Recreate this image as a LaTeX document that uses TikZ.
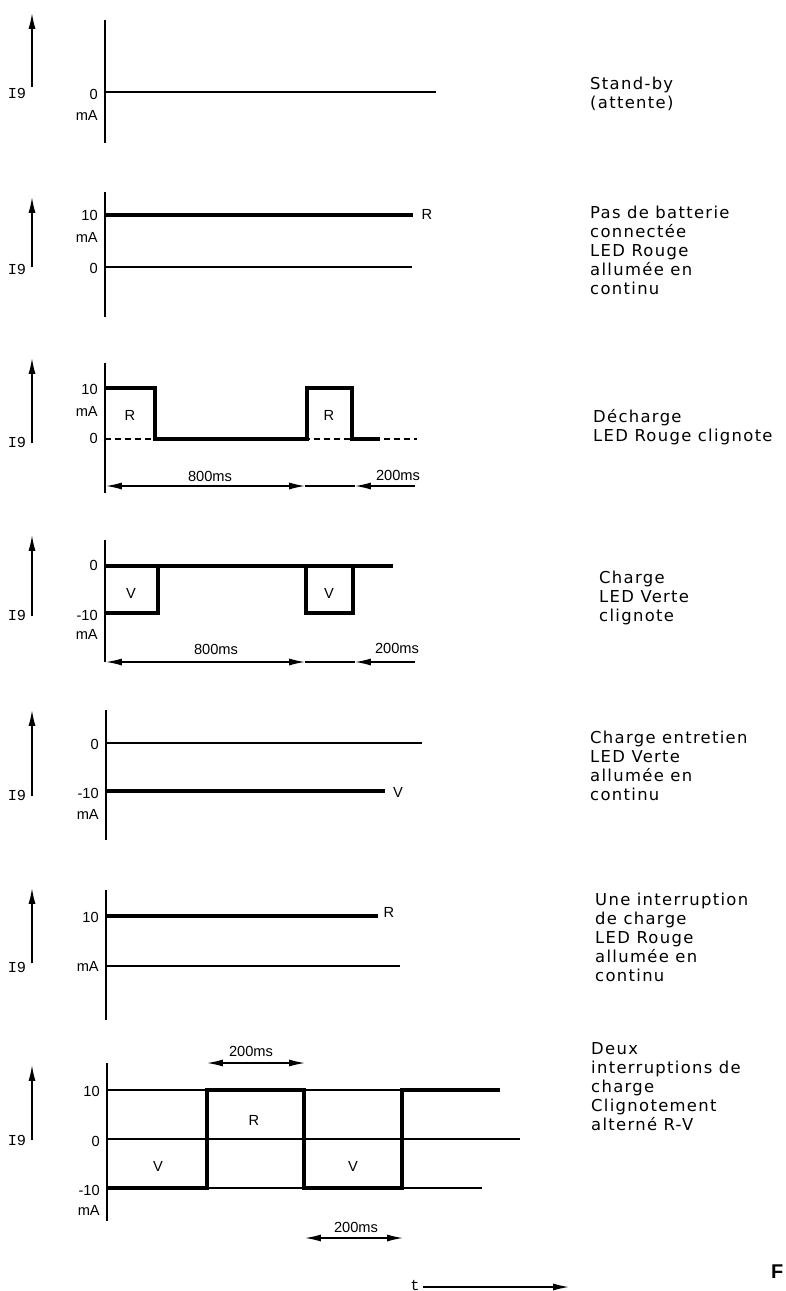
\documentclass[tikz,border=0pt]{standalone}
\usepackage{fontspec}
\usetikzlibrary{arrows.meta}
\newfontfamily\legfont[LetterSpace=8]{DejaVu Sans}
\newfontfamily\valfont{Liberation Sans}
\newfontfamily\igfont{Liberation Mono}
\tikzset{
 axe/.style={line width=1.4pt},
 fin/.style={line width=1.4pt},
 fort/.style={line width=2.6pt},
 sens/.style={line width=1.3pt},
 cote/.style={line width=1.2pt},
 val/.style={font=\valfont\fontsize{12.5}{12.5}\selectfont, anchor=east, inner sep=0pt},
 lettre/.style={font=\valfont\fontsize{12.5}{12.5}\selectfont, inner sep=0pt},
 ilab/.style={font=\igfont\fontsize{13}{13}\selectfont, inner sep=0pt},
 leg/.style={font=\legfont\fontsize{14}{16.2}\selectfont, anchor=north west, inner sep=0pt, align=left}
}
\begin{document}
\begin{tikzpicture}[x=0.03cm,y=-0.03cm,>={Latex[length=13.5pt,width=6pt]}]
 \useasboundingbox (0,0) rectangle (786,1291);
 %
 % Stand-by
 \draw[->,sens] (32,87) -- (32,13);
 \node[ilab] (ia) at (17,93) {I9};
 \draw[axe] (105,20) -- (105,143);
 \draw[fin] (105,92) -- (436,92);
 \node[val] (za) at (98,94) {0};
 \node[val] (ma) at (98,115) {mA};
 \node[leg] (la) at (590,77) {Stand-by\\(attente)};
 %
 % pas de batterie
 \draw[->,sens] (32,267) -- (32,197);
 \node[ilab] (ib) at (17,269) {I9};
 \draw[axe] (105,192) -- (105,317);
 \draw[fort] (105,215) -- (413,215);
 \draw[fin] (105,267) -- (412,267);
 \node[val] (db) at (98,215) {10};
 \node[val] (mb) at (98,237) {mA};
 \node[val] (zb) at (98,268) {0};
 \node[lettre] (rb) at (427,214) {R};
 \node[leg] (lb) at (590,206) {Pas de batterie\\connectée\\LED Rouge\\allumée en\\continu};
 %
 % decharge
 \draw[->,sens] (32,443) -- (32,358);
 \node[ilab] (ic) at (17,442) {I9};
 \draw[axe] (105,363) -- (105,493);
 \draw[fin,dash pattern=on 5pt off 3.5pt] (105,439) -- (417,439);
 \draw[fort] (105,388) -- (155,388) -- (155,439) -- (307,439) -- (307,388) -- (352,388) -- (352,439) -- (380,439);
 \node[val] (dc) at (98,389) {10};
 \node[val] (mc) at (98,411) {mA};
 \node[val] (zc) at (98,438) {0};
 \node[lettre] (rc1) at (130,415) {R};
 \node[lettre] (rc2) at (329,415) {R};
 \draw[<->,cote] (106,486) -- (305,486);
 \draw[cote] (305,486) -- (355,486);
 \draw[<-,cote] (355,486) -- (415,486);
 \node[lettre] (hc) at (210,476) {800ms};
 \node[lettre] (kc) at (398,475) {200ms};
 \node[leg] (lc) at (593,409) {Décharge\\LED Rouge clignote};
 %
 % charge
 \draw[->,sens] (32,616) -- (32,535);
 \node[ilab] (id) at (17,615) {I9};
 \draw[axe] (105,540) -- (105,662);
 \draw[fort] (105,566) -- (393,566);
 \draw[fort] (105,613) -- (158,613) -- (158,566);
 \draw[fort] (306,566) -- (306,613) -- (353,613) -- (353,566);
 \node[val] (zd) at (98,565) {0};
 \node[val] (dd) at (98,615) {-10};
 \node[val] (md) at (98,634) {mA};
 \node[lettre] (vd1) at (131,593) {V};
 \node[lettre] (vd2) at (329,593) {V};
 \draw[<->,cote] (106,662) -- (305,662);
 \draw[cote] (305,662) -- (355,662);
 \draw[<-,cote] (355,662) -- (415,662);
 \node[lettre] (hd) at (216,649) {800ms};
 \node[lettre] (kd) at (397,648) {200ms};
 \node[leg] (ld) at (599,571) {Charge\\LED Verte\\clignote};
 %
 % charge entretien
 \draw[->,sens] (32,796) -- (32,710);
 \node[ilab] (ie) at (17,795) {I9};
 \draw[axe] (106,710) -- (106,840);
 \draw[fin] (106,743) -- (422,743);
 \draw[fort] (106,791) -- (385,791);
 \node[val] (ze) at (99,744) {0};
 \node[val] (de) at (99,793) {-10};
 \node[val] (me) at (99,814) {mA};
 \node[lettre] (ve) at (398,792) {V};
 \node[leg] (le) at (590,731) {Charge entretien\\LED Verte\\allumée en\\continu};
 %
 % une interruption
 \draw[->,sens] (32,963) -- (32,888);
 \node[ilab] (if) at (17,967) {I9};
 \draw[axe] (106,890) -- (106,1020);
 \draw[fort] (106,916) -- (378,916);
 \draw[fin] (106,966) -- (400,966);
 \node[val] (df) at (99,917) {10};
 \node[val] (mf) at (99,966) {mA};
 \node[lettre] (rf) at (389,912) {R};
 \node[leg] (lf) at (595,893) {Une interruption\\de charge\\LED Rouge\\allumée en\\continu};
 %
 % deux interruptions
 \draw[->,sens] (32,1140) -- (32,1065);
 \node[ilab] (ig) at (17,1140) {I9};
 \draw[axe] (107,1063) -- (107,1221);
 \draw[fin] (107,1090) -- (500,1090);
 \draw[fin] (107,1139) -- (520,1139);
 \draw[fin] (107,1188) -- (482,1188);
 \draw[fort] (107,1188) -- (207,1188) -- (207,1090) -- (304,1090) -- (304,1188) -- (402,1188) -- (402,1090) -- (500,1090);
 \node[val] (dg) at (100,1091) {10};
 \node[val] (zg) at (100,1141) {0};
 \node[val] (ng) at (100,1190) {-10};
 \node[val] (mg) at (100,1210) {mA};
 \node[lettre] (rg) at (254,1120) {R};
 \node[lettre] (vg1) at (158,1166) {V};
 \node[lettre] (vg2) at (353,1166) {V};
 \draw[<->,cote] (207,1063) -- (305,1063);
 \node[lettre] (hg) at (251,1051) {200ms};
 \draw[<->,cote] (305,1238) -- (403,1238);
 \node[lettre] (kg) at (356,1227) {200ms};
 \node[leg] (lg) at (591,1042) {Deux\\interruptions de\\charge\\Clignotement\\alterné R-V};
 %
 % temps
 \node[ilab] (t) at (415,1285) {t};
 \draw[->,cote] (423,1287) -- (569,1287);
 \node[font=\valfont\bfseries\fontsize{17}{17}\selectfont, anchor=west, inner sep=0pt] (f) at (771,1272) {F};
\end{tikzpicture}
\end{document}
